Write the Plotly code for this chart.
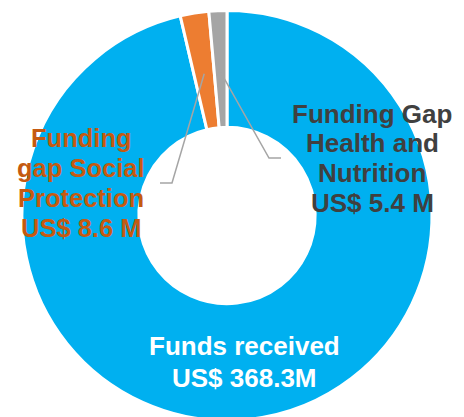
import math
import plotly.graph_objects as go

# ---- data ----
categories = ["Funds received", "Funding gap Social Protection", "Funding Gap Health and Nutrition"]
values = [368.3, 8.6, 5.4]
label_lines = {
    "Funds received": ["Funds received", "US$ 368.3M"],
    "Funding gap Social Protection": ["Funding", "gap Social", "Protection", "US$ 8.6 M"],
    "Funding Gap Health and Nutrition": ["Funding Gap", "Health and", "Nutrition", "US$ 5.4 M"],
}
slice_colors = ["#00B0F0", "#ED7D31", "#A5A5A5"]
text_colors = ["#FFFFFF", "#C55A11", "#404040"]

# ---- layout constants (pixels) ----
W, H = 464, 431
CX, CY, R = 227, 215.5, 205
HOLE = 0.43

def px(x):
    return x / W

def py(y):
    return 1 - y / H

fig = go.Figure(go.Pie(
    labels=categories,
    values=values,
    hole=HOLE,
    sort=False,
    direction="clockwise",
    rotation=0,
    marker=dict(colors=slice_colors, line=dict(color="#FFFFFF", width=3)),
    textinfo="none",
    hoverinfo="label+value",
    showlegend=False,
    domain=dict(x=[px(CX - R), px(CX + R)], y=[0, 1]),
))

# label blocks: (center x, first line center y, line spacing, font size)
label_pos = {
    "Funds received": (244, 346.3, 32, 26),
    "Funding gap Social Protection": (81, 138.3, 30, 25.5),
    "Funding Gap Health and Nutrition": (372, 113.5, 29.7, 26),
}
annotations = []
for i, cat in enumerate(categories):
    x0, y0, dy, fs = label_pos[cat]
    for k, line in enumerate(label_lines[cat]):
        annotations.append(dict(
            x=px(x0), y=py(y0 + k * dy), xref="paper", yref="paper",
            text=line, showarrow=False, xanchor="center", yanchor="middle",
            font=dict(family="Liberation Sans, Arial, sans-serif", size=fs,
                      color=text_colors[i], weight="bold"),
        ))

# leader lines from the slice middles, derived from the data
total = sum(values)
cum = 0
mids = []
for v in values:
    mids.append((cum + v / 2) / total * 2 * math.pi)
    cum += v

elbows = {
    "Funding gap Social Protection": ((172, 183), (160, 183)),
    "Funding Gap Health and Nutrition": ((269, 158), (281, 158)),
}
shapes = []
for i, cat in enumerate(categories):
    if cat not in elbows:
        continue
    r = 0.7 * R
    sx = CX + r * math.sin(mids[i])
    sy = CY - r * math.cos(mids[i])
    (ex, ey), (fx, fy) = elbows[cat]
    path = f"M {px(sx)} {py(sy)} L {px(ex)} {py(ey)} L {px(fx)} {py(fy)}"
    shapes.append(dict(type="path", path=path, xref="paper", yref="paper",
                       line=dict(color="#A5A5A5", width=1.5)))

fig.update_layout(
    width=W, height=H,
    margin=dict(l=0, r=0, t=0, b=0),
    paper_bgcolor="#FFFFFF",
    plot_bgcolor="#FFFFFF",
    annotations=annotations,
    shapes=shapes,
)

fig.write_html(
    "out.html",
    config={"displayModeBar": False},
    post_script="document.documentElement.style.overflow='hidden';document.body.style.overflow='hidden';document.body.style.margin='0';",
)
